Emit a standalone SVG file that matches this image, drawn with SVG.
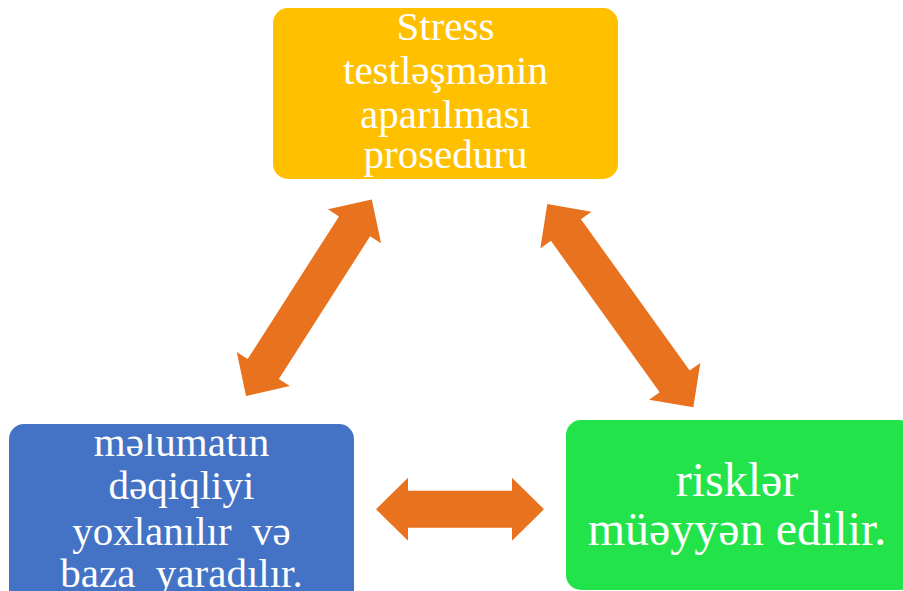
<svg xmlns="http://www.w3.org/2000/svg" width="903" height="591" viewBox="0 0 903 591">
<style>
.t{font-family:"Liberation Serif","DejaVu Serif","Times New Roman",serif;font-size:41px;fill:#ffffff;text-anchor:middle;white-space:pre}
.big{font-size:48px}
.arr{fill:#E8721E}
</style>
<defs>
<polygon id="a233" points="-116.7,0 -84.7,-31.5 -84.7,-18.5 84.7,-18.5 84.7,-31.5 116.7,0 84.7,31.5 84.7,18.5 -84.7,18.5 -84.7,31.5"/>
<polygon id="a250" points="-125.2,0 -93.2,-31.5 -93.2,-18.5 93.2,-18.5 93.2,-31.5 125.2,0 93.2,31.5 93.2,18.5 -93.2,18.5 -93.2,31.5"/>
<polygon id="a168" points="-84,0 -52,-31.5 -52,-18.5 52,-18.5 52,-31.5 84,0 52,31.5 52,18.5 -52,18.5 -52,31.5"/>
<clipPath id="clipTop"><rect x="273" y="8" width="345" height="171"/></clipPath>
<clipPath id="clipLeft"><rect x="9" y="434" width="345" height="160"/></clipPath>
</defs>
<rect width="903" height="591" fill="#ffffff"/>
<g id="connectors">
<use href="#a233" class="arr" transform="translate(308.9,297.7) rotate(-57.4)"/>
<use href="#a250" class="arr" transform="translate(620.3,305.7) rotate(54.3)"/>
<use href="#a168" class="arr" transform="translate(460,509.3)"/>
</g>
<g id="node-top">
<rect x="273" y="8" width="345" height="171" rx="15" fill="#FFC000"/>
<g clip-path="url(#clipTop)">
<text class="t" x="445.5" y="40">Stress</text>
<text class="t" x="445.5" y="84">testləşmənin</text>
<text class="t" x="445.5" y="128">aparılması</text>
<text class="t" x="445.5" y="168">proseduru</text>
</g>
</g>
<g id="node-left">
<rect x="9" y="424" width="345" height="200" rx="15" fill="#4472C4"/>
<g clip-path="url(#clipLeft)">
<text class="t" x="181.5" y="456">məlumatın</text>
<text class="t" x="181.5" y="499">dəqiqliyi</text>
<text class="t" x="181.5" y="545">yoxlanılır  və</text>
<text class="t" x="181.5" y="587">baza  yaradılır.</text>
</g>
</g>
<g id="node-right">
<rect x="566" y="420" width="348" height="170" rx="15" fill="#22E34A"/>
<text class="t big" x="737" y="496">risklər</text>
<text class="t big" x="737" y="545">müəyyən edilir.</text>
</g>
</svg>
